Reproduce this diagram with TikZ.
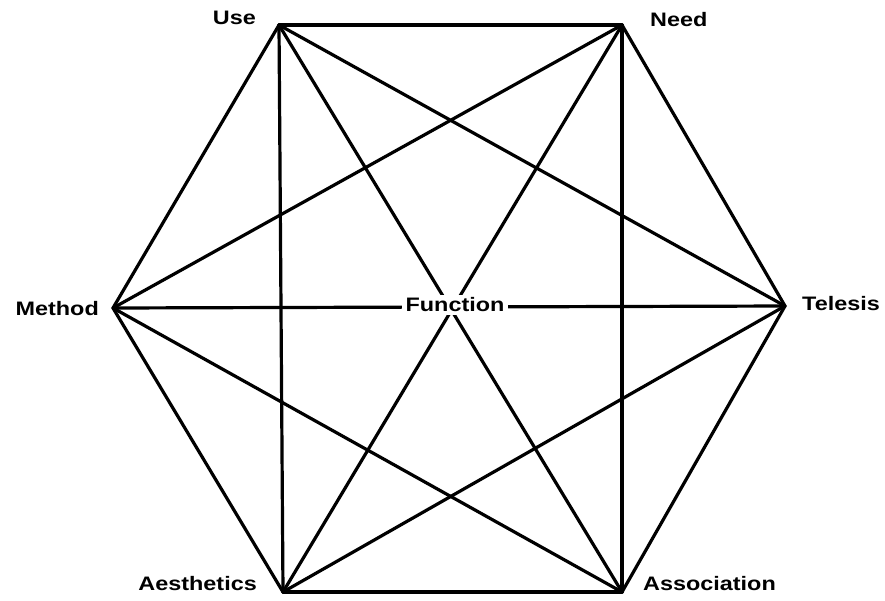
\documentclass[tikz,border=0pt]{standalone}
\usepackage{fontspec}
\setmainfont{Liberation Sans}[FakeStretch=1.2]
\begin{document}
\begin{tikzpicture}[x=1pt,y=-1pt,
  edge/.style={line width=3.2pt,line cap=round,line join=round},
  lab/.style={font=\fontsize{19.5}{22}\selectfont\bfseries,inner sep=0pt}]
\useasboundingbox (0,0) rectangle (885,600);
\coordinate (U) at (279,25);
\coordinate (N) at (622,25);
\coordinate (T) at (785,306);
\coordinate (A) at (622,592);
\coordinate (E) at (283,592);
\coordinate (M) at (113,308);
\foreach \a/\b in {U/N,U/T,U/A,U/E,U/M,N/T,N/A,N/E,N/M,T/A,T/E,T/M,A/E,A/M,E/M}
  \draw[edge] (\a) -- (\b);
\node[lab,fill=white,inner xsep=4pt,inner ysep=3pt] (F) at (455,305) {Function};
\node[lab,anchor=east] (lu) at (256,18) {Use};
\node[lab,anchor=west] (ln) at (650,20) {Need};
\node[lab,anchor=east] (lm) at (99,309) {Method};
\node[lab,anchor=west] (lt) at (802,304) {Telesis};
\node[lab,anchor=east] (le) at (257,584) {Aesthetics};
\node[lab,anchor=west] (la) at (643,584) {Association};
\end{tikzpicture}
\end{document}
